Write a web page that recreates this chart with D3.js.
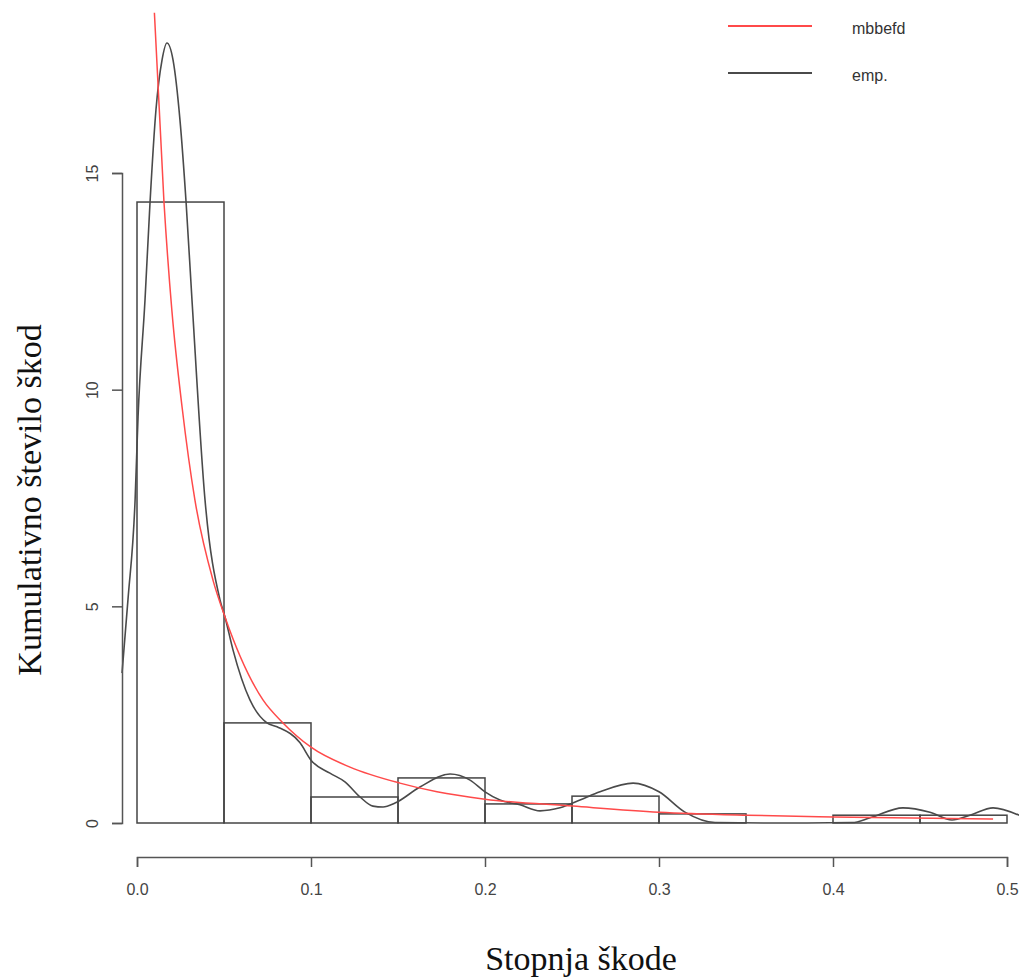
<!DOCTYPE html>
<html>
<head>
<meta charset="utf-8">
<script src="https://cdn.jsdelivr.net/npm/d3@7"></script>
<style>
    body { margin: 0; background: #fff; }
    svg { display: block; }
</style>
</head>
<body>
<div id="chart"></div>
<script>
// histogram bins (left edges plus last right edge) and densities
const binEdges = [0, 0.05, 0.1, 0.15, 0.2, 0.25, 0.3, 0.35, 0.4, 0.45, 0.5]
const binDensity = [14.33, 2.31, 0.6, 1.04, 0.44, 0.62, 0.21, 0, 0.18, 0.18]

// empirical kernel density ("emp.")
const empX = [-0.0086, -0.0052, -0.0011, 0.0006, 0.0046, 0.0075, 0.0109, 0.0144, 0.0172, 0.0207, 0.0247, 0.0282, 0.0316,
    0.0391, 0.0477, 0.0506, 0.0552, 0.0649, 0.0747, 0.0805, 0.0937, 0.1, 0.1109, 0.1195, 0.1282, 0.1356, 0.1414, 0.1483,
    0.1626, 0.1799, 0.1914, 0.2, 0.2086, 0.2201, 0.2316, 0.2431, 0.2546, 0.2661, 0.2851, 0.3, 0.3149, 0.3322, 0.36, 0.385,
    0.411, 0.4213, 0.4402, 0.4557, 0.4684, 0.4787, 0.492, 0.5069]
const empY = [3.46, 5.15, 7.45, 9.37, 12.07, 14.33, 16.46, 17.61, 18.0, 17.61, 16.22, 14.33, 12.07,
    7.45, 5.15, 4.75, 3.99, 2.84, 2.31, 2.22, 1.85, 1.45, 1.15, 0.95, 0.6, 0.39, 0.37, 0.46,
    0.83, 1.13, 0.99, 0.72, 0.53, 0.42, 0.28, 0.35, 0.53, 0.72, 0.92, 0.72, 0.25, 0.01, 0, 0,
    0.01, 0.12, 0.35, 0.25, 0.07, 0.18, 0.35, 0.18]

// fitted MBBEFD density
const fitX = [0.0100, 0.0155, 0.0201, 0.0259, 0.0333, 0.0437, 0.0506, 0.0724, 0.0839, 0.1, 0.1224, 0.1511, 0.1724, 0.2,
    0.2506, 0.3, 0.3506, 0.4, 0.492]
const fitY = [18.7, 14.33, 11.8, 9.6, 7.45, 5.6, 4.75, 2.84, 2.31, 1.75, 1.29, 0.92, 0.72, 0.55,
    0.39, 0.25, 0.18, 0.14, 0.09]

// axis ticks and texts
const xTicks = [0, 0.1, 0.2, 0.3, 0.4, 0.5]
const yTicks = [0, 5, 10, 15]
const legendLabels = ["mbbefd", "emp."]
const xTitle = "Stopnja škode"
const yTitle = "Kumulativno število škod"

const width = 1019
const height = 978

/**
 * Draws the histogram with both density curves.
 */
function drawChart() {
    const svg = d3.select("#chart")
        .append("svg")
        .attr("width", width)
        .attr("height", height)

    // scales matching the R plot region
    const x = d3.scaleLinear().domain([0, 0.5]).range([137, 1007])
    const y = d3.scaleLinear().domain([0, 15]).range([823, 173])

    // histogram bars
    const bins = binDensity.map((d, i) => ({x0: binEdges[i], x1: binEdges[i + 1], d: d}))
    svg.append("g")
        .selectAll("rect")
        .data(bins)
        .join("rect")
        .attr("x", d => x(d.x0))
        .attr("y", d => y(d.d))
        .attr("width", d => x(d.x1) - x(d.x0))
        .attr("height", d => y(0) - y(d.d))
        .attr("fill", "none")
        .attr("stroke", "#444")
        .attr("stroke-width", 1.5)

    // clip curves to the visible picture
    svg.append("clipPath").attr("id", "clip")
        .append("rect").attr("x", 0).attr("y", 8).attr("width", width).attr("height", 850)

    const line = d3.line()
        .x(d => x(d[0]))
        .y(d => y(d[1]))
        .curve(d3.curveMonotoneX)

    // empirical density
    svg.append("path")
        .datum(d3.zip(empX, empY))
        .attr("clip-path", "url(#clip)")
        .attr("d", line)
        .attr("fill", "none")
        .attr("stroke", "#4a4a4a")
        .attr("stroke-width", 1.6)

    // fitted density
    svg.append("path")
        .datum(d3.zip(fitX, fitY))
        .attr("clip-path", "url(#clip)")
        .attr("d", line)
        .attr("fill", "none")
        .attr("stroke", "#ff4a4a")
        .attr("stroke-width", 1.5)

    // x axis, offset below the bars like R does
    const xAxis = svg.append("g")
        .attr("transform", "translate(0,857)")
        .call(d3.axisBottom(x).tickValues(xTicks).tickFormat(d3.format(".1f")).tickSize(10).tickSizeOuter(10))
    styleAxis(xAxis)
    xAxis.selectAll("text").attr("y", 38).attr("dy", 0)

    // y axis with labels parallel to it
    const yAxis = svg.append("g")
        .attr("transform", "translate(122,0)")
        .call(d3.axisLeft(y).tickValues(yTicks).tickSize(10).tickSizeOuter(10))
    styleAxis(yAxis)
    yAxis.selectAll("text")
        .attr("transform", "rotate(-90)")
        .attr("text-anchor", "middle")
        .attr("x", 0)
        .attr("y", -24)
        .attr("dy", 0)

    // axis titles
    svg.append("text")
        .attr("x", 581)
        .attr("y", 970)
        .attr("text-anchor", "middle")
        .attr("font-family", "Liberation Serif, Times New Roman, serif")
        .attr("font-size", 34)
        .attr("fill", "#111")
        .text(xTitle)

    svg.append("text")
        .attr("transform", "translate(41,500) rotate(-90)")
        .attr("text-anchor", "middle")
        .attr("font-family", "Liberation Serif, Times New Roman, serif")
        .attr("font-size", 34)
        .attr("fill", "#111")
        .text(yTitle)

    // legend in the top right corner
    const legendColors = ["#ff4a4a", "#4a4a4a"]
    const legend = svg.append("g")
        .selectAll("g")
        .data(legendLabels)
        .join("g")
        .attr("transform", (d, i) => `translate(728,${26 + i * 47})`)
    legend.append("line")
        .attr("x1", 0)
        .attr("x2", 84)
        .attr("stroke", (d, i) => legendColors[i])
        .attr("stroke-width", 1.8)
    legend.append("text")
        .attr("x", 124)
        .attr("y", 8)
        .attr("font-family", "Liberation Sans, Arial, sans-serif")
        .attr("font-size", 16)
        .attr("fill", "#333")
        .text(d => d)
}

/**
 * Gives an axis the plain grey look of base R graphics.
 * @param {*} g Axis group.
 */
function styleAxis(g) {
    g.select(".domain").attr("stroke", "#555").attr("stroke-width", 1.5)
    g.selectAll(".tick line").attr("stroke", "#555").attr("stroke-width", 1.5)
    g.selectAll("text")
        .attr("font-family", "Liberation Sans, Arial, sans-serif")
        .attr("font-size", 16)
        .attr("fill", "#444")
}

drawChart()
</script>
</body>
</html>
